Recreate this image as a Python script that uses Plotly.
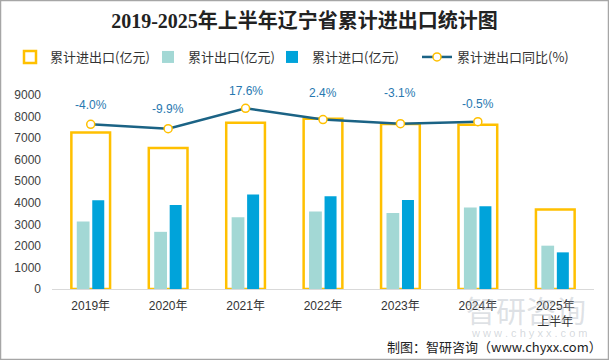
import plotly.graph_objects as go

categories = ["2019年", "2020年", "2021年", "2022年", "2023年", "2024年", "2025年<br>上半年"]
total_trade = [7255, 6544, 7708, 7900, 7660, 7621, 3693]
exports = [3136, 2652, 3324, 3597, 3530, 3781, 2010]
imports = [4120, 3892, 4384, 4303, 4130, 3840, 1700]
growth = [-4.0, -9.9, 17.6, 2.4, -3.1, -0.5]
growth_labels = ["-4.0%", "-9.9%", "17.6%", "2.4%", "-3.1%", "-0.5%"]
label_yshift = [19, 20, 17, 27, 31, 18]

W, H = 609, 360
ML, MR, MT, MB = 52, 15, 95, 71
PW, PH = W - ML - MR, H - MT - MB


def px_x(x):
    return (x - ML) / PW


def px_y(y):
    return (MT + PH - y) / PH


fig = go.Figure()
fig.add_trace(go.Bar(
    x=categories, y=total_trade, name="累计进出口(亿元)", legend="legend",
    marker=dict(color="rgba(255,255,255,0)", line=dict(color="#FFC000", width=2.5)),
    width=0.5, offset=-0.25,
))
fig.add_trace(go.Bar(
    x=categories, y=exports, name="累计出口(亿元)", legend="legend2",
    marker=dict(color="#A3D8D5", line=dict(width=0)),
    width=0.165, offset=-0.18,
))
fig.add_trace(go.Bar(
    x=categories, y=imports, name="累计进口(亿元)", legend="legend3",
    marker=dict(color="#00A3DA", line=dict(width=0)),
    width=0.155, offset=0.02,
))
fig.add_trace(go.Scatter(
    x=categories[:len(growth)], y=growth, name="累计进出口同比(%)", legend="legend4",
    mode="lines+markers", yaxis="y2",
    line=dict(color="#1B6385", width=2.5),
    marker=dict(size=8, color="white", line=dict(color="#FFC000", width=1.5)),
))

annotations = []
for c, g, t, s in zip(categories, growth, growth_labels, label_yshift):
    annotations.append(dict(
        x=c, y=g, xref="x", yref="y2", text=t, showarrow=False,
        yshift=s, font=dict(size=12, color="#2878B0", family="Liberation Sans, Noto Sans CJK SC"),
    ))

# watermark (faint)
annotations.append(dict(
    x=px_x(588), y=px_y(309), xref="paper", yref="paper",
    xanchor="right", yanchor="middle", showarrow=False,
    text="智研咨询",
    font=dict(size=30, color="rgba(160,170,180,0.35)", family="Noto Sans CJK SC"),
))
annotations.append(dict(
    x=px_x(590), y=px_y(333), xref="paper", yref="paper",
    xanchor="right", yanchor="middle", showarrow=False,
    text="w w w . c h y x x . c o m",
    font=dict(size=11, color="rgba(160,170,180,0.45)", family="Liberation Sans"),
))
annotations.append(dict(
    x=px_x(604), y=px_y(346.5), xref="paper", yref="paper",
    xanchor="right", yanchor="middle", showarrow=False,
    text="制图：智研咨询（www.chyxx.com）",
    font=dict(size=13, color="#222222", family="Noto Sans CJK SC"),
))


def legend_at(text_x):
    return dict(
        orientation="h", xref="container", yref="container",
        x=(text_x - 40) / W, xanchor="left",
        y=1 - 57 / H, yanchor="middle",
        font=dict(size=13, color="#333333", family="Noto Sans CJK SC"),
        bgcolor="rgba(0,0,0,0)", itemclick=False, borderwidth=0,
    )


fig.update_layout(
    width=W, height=H,
    margin=dict(l=ML, r=MR, t=MT, b=MB, autoexpand=False),
    paper_bgcolor="white", plot_bgcolor="white",
    barmode="overlay",
    title=dict(
        text="<b>2019-2025年上半年辽宁省累计进出口统计图</b>",
        x=0.5, xref="container", xanchor="center",
        y=1 - 21 / H, yref="container", yanchor="middle",
        font=dict(size=20, color="#222222", family="Liberation Serif, Noto Sans CJK SC"),
    ),
    legend=legend_at(50),
    legend2=legend_at(188),
    legend3=legend_at(312),
    legend4=legend_at(457),
    xaxis=dict(
        type="category", showgrid=False, showline=True, linecolor="#D9D9D9", linewidth=1,
        ticks="", automargin=False, ticklabelstandoff=6,
        tickfont=dict(size=12, color="#333333", family="Liberation Sans, Noto Sans CJK SC"),
        zeroline=False,
    ),
    yaxis=dict(
        range=[0, 9000], tickvals=[0, 1000, 2000, 3000, 4000, 5000, 6000, 7000, 8000, 9000],
        showgrid=False, zeroline=False, showline=False, ticks="", automargin=False,
        ticklabelstandoff=10,
        tickfont=dict(size=12, color="#404040", family="Liberation Sans"),
    ),
    yaxis2=dict(
        overlaying="y", side="right", range=[-225.9, 35.5], visible=False,
        showgrid=False, zeroline=False, automargin=False,
    ),
    annotations=annotations,
    shapes=[dict(
        type="rect", xref="paper", yref="paper",
        x0=px_x(0.5), x1=px_x(W - 0.5),
        y0=px_y(H - 0.5), y1=px_y(0.5),
        line=dict(color="#A6A6A6", width=1.5), fillcolor="rgba(0,0,0,0)", layer="below",
    )],
    showlegend=True,
)

fig.write_html(
    "out.html",
    config={"displayModeBar": False},
    post_script="document.body.style.margin='0';document.body.style.padding='0';document.body.style.overflow='hidden';",
)
